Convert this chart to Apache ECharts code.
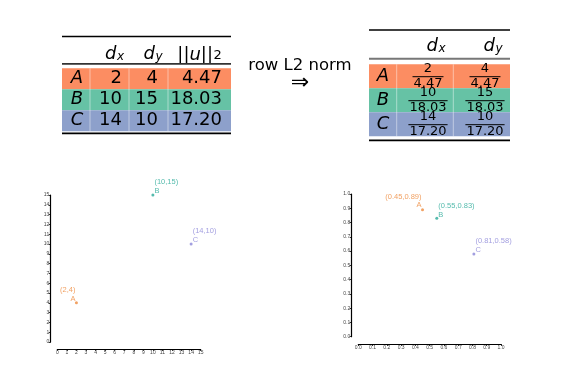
<!DOCTYPE html>
<html>
<head>
<meta charset="utf-8">
<script src="https://cdn.jsdelivr.net/npm/echarts@6/dist/echarts.min.js"></script>
<style>
  html, body { margin: 0; padding: 0; background: #fff; }
  #chart { width: 567px; height: 375px; }
</style>
</head>
<body>
<div id="chart"></div>
<script>
// data
const rowNames = ['A', 'B', 'C'];
const dx = [2, 10, 14];
const dy = [4, 15, 10];
const norms = ['4.47', '18.03', '17.20'];
const unitX = [0.45, 0.55, 0.81];
const unitY = [0.89, 0.83, 0.58];
const rawAxis = { min: 0, max: 15, interval: 1 };
const unitAxis = { min: 0, max: 1, interval: 0.1 };

const rowColors = ['#fc8d62', '#66c2a5', '#8da0cb'];
const pointColors = ['#ee8a3c', '#2aaa98', '#8c87d8'];
const FONT = '"DejaVu Sans"';

const measure = (() => {
  const ctx = document.createElement('canvas').getContext('2d');
  return (s, font) => { ctx.font = font; return ctx.measureText(s).width; };
})();

function text(x, y, s, size, al, italic) {
  const font = (italic ? 'italic ' : '') + size + 'px ' + FONT;
  return {
    type: 'text', silent: true,
    style: { x, y, text: s, font, fill: '#000',
      align: al, verticalAlign: 'middle', textAlign: al, textVerticalAlign: 'middle' }
  };
}
function line(x1, y1, x2, y2, color, w) {
  return { type: 'line', silent: true, shape: { x1, y1, x2, y2 }, style: { stroke: color, lineWidth: w } };
}
function rect(x, y, w, h, fill) {
  return { type: 'rect', silent: true, shape: { x, y, width: w, height: h }, style: { fill } };
}
// italic letter with subscript, joined at x
function subbed(x, y, base, sub, size, subSize, subDy) {
  return [text(x, y, base, size, 'right', true), text(x + 0.5, y + subDy, sub, subSize, 'left', true)];
}

// left table
function leftTable() {
  const x0 = 62, x1 = 231, row0 = 68.3, rowH = 21;
  const valueRight = [122, 158, 222];
  const els = [];
  els.push(line(x0, 36.5, x1, 36.5, '#000', 1.5));
  els.push(...subbed(116.5, 54, 'd', 'x', 18, 12, 3));
  els.push(...subbed(155, 54, 'd', 'y', 18, 12, 3));
  els.push({
    type: 'text', silent: true,
    style: { x: 213, y: 55, text: '{n|||}{i|u}{n|||}', font: '18px ' + FONT, fill: '#000',
      align: 'right', verticalAlign: 'middle', textAlign: 'right', textVerticalAlign: 'middle',
      rich: { n: { fontSize: 18, fontFamily: 'DejaVu Sans' }, i: { fontSize: 18, fontStyle: 'italic', fontFamily: 'DejaVu Sans' } } }
  });
  els.push(text(213.5, 56, '2', 13, 'left', false));
  els.push(line(x0, 63.8, x1, 63.8, '#333', 1.8));
  rowNames.forEach((name, i) => {
    const top = row0 + i * rowH, cy = top + rowH / 2;
    els.push(rect(x0, top, x1 - x0, rowH, rowColors[i]));
    els.push(text(77, cy, name, 18, 'center', true));
    els.push(text(valueRight[0], cy, String(dx[i]), 18, 'right'));
    els.push(text(valueRight[1], cy, String(dy[i]), 18, 'right'));
    els.push(text(valueRight[2], cy, norms[i], 18, 'right'));
  });
  [90, 129, 168].forEach(sx => els.push(line(sx, row0, sx, row0 + 3 * rowH, 'rgba(255,255,255,0.45)', 1)));
  els.push(line(x0, 133.4, x1, 133.4, '#000', 1.8));
  return els;
}

// right table with fractions
function rightTable() {
  const x0 = 369, x1 = 510, row0 = 64.3, rowH = 24;
  const centers = [428, 485];
  const els = [];
  els.push(line(x0, 30, x1, 30, '#000', 1.5));
  els.push(...subbed(438, 46, 'd', 'x', 18, 12, 3));
  els.push(...subbed(495, 46, 'd', 'y', 18, 12, 3));
  els.push(line(x0, 58.7, x1, 58.7, '#777', 2));
  rowNames.forEach((name, i) => {
    const top = row0 + i * rowH;
    els.push(rect(x0, top, x1 - x0, rowH, rowColors[i]));
    els.push(text(383, top + rowH / 2, name, 18, 'center', true));
    [dx[i], dy[i]].forEach((num, c) => {
      const cx = centers[c];
      const w = measure(norms[i], '13px ' + FONT);
      els.push(text(cx, top + 4.8, String(num), 13, 'center'));
      els.push(line(cx - w / 2 - 1, top + 12.4, cx + w / 2 + 1, top + 12.4, '#000', 1));
      els.push(text(cx, top + 19.5, norms[i], 13, 'center'));
    });
  });
  [396.7, 453.3].forEach(sx => els.push(line(sx, row0, sx, row0 + 3 * rowH, 'rgba(255,255,255,0.45)', 1)));
  els.push(line(x0, 140.3, x1, 140.3, '#000', 1.8));
  return els;
}

function arrow() {
  return [text(300, 66, 'row L2 norm', 16.5, 'center'), text(300, 83, '\u21D2', 22, 'center')];
}

function axisStyle(gridIndex, range, offset, decimals) {
  return {
    type: 'value', gridIndex, min: range.min, max: range.max, interval: range.interval, offset,
    axisLine: { show: true, onZero: false, lineStyle: { color: '#000', width: 1.2 } },
    axisTick: { show: true, length: 2, lineStyle: { color: '#000', width: 0.8 } },
    axisLabel: { fontSize: 5, margin: 1.5, color: '#444', fontFamily: 'Liberation Sans',
      formatter: v => v.toFixed(decimals) },
    splitLine: { show: false }
  };
}

function points(xs, ys, decimals) {
  return rowNames.map((name, i) => {
    const right = i === 0;
    return {
      name,
      value: [xs[i], ys[i]],
      itemStyle: { color: pointColors[i] },
      label: {
        show: true,
        position: right ? [0.5, -16] : [3, -15.5],
        align: right ? 'right' : 'left',
        verticalAlign: 'top',
        color: pointColors[i],
        fontSize: 7.5,
        lineHeight: 8.8,
        fontFamily: 'Liberation Sans',
        formatter: '(' + xs[i].toFixed(decimals) + ',' + ys[i].toFixed(decimals) + ')\n' + name
      }
    };
  });
}

const chart = echarts.init(document.getElementById('chart'), null, { renderer: 'canvas' });
chart.setOption({
  backgroundColor: '#fff',
  animation: false,
  grid: [
    { left: 57.3, top: 195, width: 143.4, height: 147 },
    { left: 358.3, top: 194, width: 142.7, height: 142.7 }
  ],
  xAxis: [axisStyle(0, rawAxis, 7, 0), axisStyle(1, unitAxis, 7.3, 1)],
  yAxis: [axisStyle(0, rawAxis, 6.6, 0), axisStyle(1, unitAxis, 6.6, 1)],
  series: [
    { type: 'scatter', xAxisIndex: 0, yAxisIndex: 0, symbolSize: 3, data: points(dx, dy, 0) },
    { type: 'scatter', xAxisIndex: 1, yAxisIndex: 1, symbolSize: 3, data: points(unitX, unitY, 2) }
  ],
  graphic: [...leftTable(), ...rightTable(), ...arrow()]
});
</script>
</body>
</html>
